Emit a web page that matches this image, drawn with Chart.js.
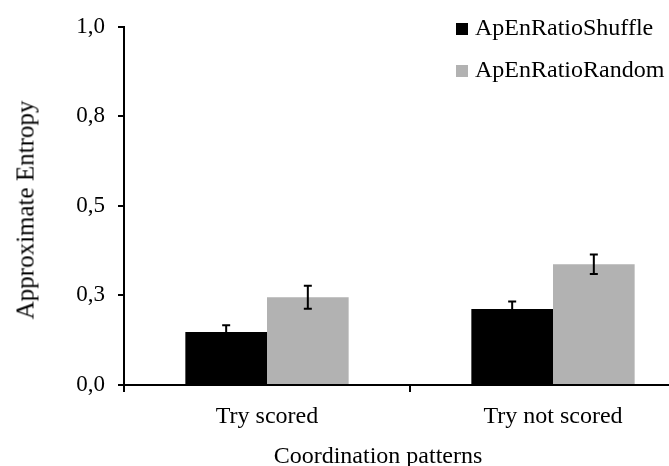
<!DOCTYPE html>
<html>
<head>
<meta charset="utf-8">
<script src="https://cdn.jsdelivr.net/npm/chart.js@4.4.1/dist/chart.umd.min.js"></script>
<style>
  html, body { margin: 0; padding: 0; background: #fff; overflow: hidden; }
  #wrap { position: relative; width: 700px; height: 466px; font-family: "Liberation Serif", "Times New Roman", serif; color: #000; }
  #legend { position: absolute; left: 456px; top: 6px; font-size: 24px; }
  .item { display: flex; align-items: center; height: 42px; }
  .box { width: 12px; height: 12px; margin-right: 7px; position: relative; top: 2px; }
  #xtitle { position: absolute; left: 378px; top: 443px; transform: translateX(-50%); font-size: 24px; line-height: 24px; white-space: nowrap; }
  #ytitle { position: absolute; left: 25px; top: 210px; transform: translate(-50%, -50%) rotate(-90deg); font-size: 25px; line-height: 25px; white-space: nowrap; }
</style>
</head>
<body>
<div id="wrap">
  <canvas id="chart"></canvas>
  <div id="legend"></div>
  <div id="xtitle"></div>
  <div id="ytitle"></div>
</div>
<script>
// Approximate entropy ratios per coordination pattern
const categories = ["Try scored", "Try not scored"];
const seriesNames = ["ApEnRatioShuffle", "ApEnRatioRandom"];
const shuffleValues = [0.148, 0.212];
const randomValues = [0.245, 0.337];
const shuffleErrors = [0.019, 0.021];
const randomErrors = [0.032, 0.027];
const yTickLabels = ["0,0", "0,3", "0,5", "0,8", "1,0"];
const xTitle = "Coordination patterns";
const yTitle = "Approximate Entropy";

const colors = ["#000000", "#b2b2b2"];
const serif = "'Liberation Serif', 'Times New Roman', serif";

// Draw error bars from the dataset's errors array
const errorBars = {
  id: "errorBars",
  afterDatasetsDraw(chart) {
    const ctx = chart.ctx;
    const y = chart.scales.y;
    chart.data.datasets.forEach((ds, i) => {
      const meta = chart.getDatasetMeta(i);
      meta.data.forEach((bar, j) => {
        const v = ds.data[j], e = ds.errors[j];
        const top = y.getPixelForValue(v + e);
        const bot = y.getPixelForValue(v - e);
        ctx.save();
        ctx.strokeStyle = "#000";
        ctx.lineWidth = 2;
        ctx.beginPath();
        ctx.moveTo(bar.x, top); ctx.lineTo(bar.x, bot);
        ctx.moveTo(bar.x - 4, top); ctx.lineTo(bar.x + 4, top);
        ctx.moveTo(bar.x - 4, bot); ctx.lineTo(bar.x + 4, bot);
        ctx.stroke();
        ctx.restore();
      });
    });
  }
};

new Chart(document.getElementById("chart"), {
  type: "bar",
  data: {
    labels: categories,
    datasets: [
      { label: seriesNames[0], data: shuffleValues, errors: shuffleErrors, backgroundColor: colors[0] },
      { label: seriesNames[1], data: randomValues, errors: randomErrors, backgroundColor: colors[1] }
    ]
  },
  options: {
    responsive: true,
    maintainAspectRatio: false,
    animation: false,
    layout: { padding: { top: 24, right: 4, left: 0, bottom: 0 } },
    datasets: { bar: { barPercentage: 1, categoryPercentage: 0.571 } },
    plugins: { legend: { display: false }, tooltip: { enabled: false } },
    scales: {
      x: {
        grid: { drawOnChartArea: false, color: "#000", lineWidth: 2, tickLength: 7, offset: true },
        border: { color: "#000", width: 2 },
        ticks: { color: "#000", font: { family: serif, size: 24 }, padding: 10 },
        afterFit(scale) { scale.height = 81; }
      },
      y: {
        min: 0, max: 1,
        ticks: {
          stepSize: 0.25, color: "#000", font: { family: serif, size: 23 }, padding: 13,
          callback: (v, i) => yTickLabels[i]
        },
        grid: { drawOnChartArea: false, color: "#000", lineWidth: 2, tickLength: 6 },
        border: { color: "#000", width: 2 },
        afterFit(scale) { scale.width = 124; }
      }
    }
  },
  plugins: [errorBars]
});

// HTML legend and axis titles
const legend = document.getElementById("legend");
seriesNames.forEach((name, i) => {
  const row = document.createElement("div");
  row.className = "item";
  const box = document.createElement("span");
  box.className = "box";
  box.style.background = colors[i];
  row.appendChild(box);
  row.appendChild(document.createTextNode(name));
  legend.appendChild(row);
});
document.getElementById("xtitle").textContent = xTitle;
document.getElementById("ytitle").textContent = yTitle;
</script>
</body>
</html>
